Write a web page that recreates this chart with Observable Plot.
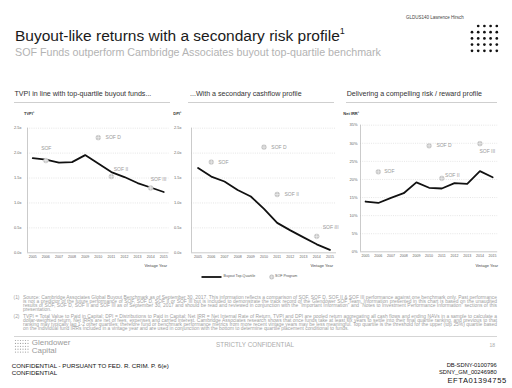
<!DOCTYPE html>
<html><head><meta charset="utf-8">
<script src="https://cdn.jsdelivr.net/npm/d3@7"></script>
<script src="https://cdn.jsdelivr.net/npm/@observablehq/plot@0.6"></script>
<style>
html,body{margin:0;padding:0;background:#fff;}
#page{position:relative;width:512px;height:388px;overflow:hidden;font-family:"Liberation Sans",Arial,Helvetica,sans-serif;}
.abs{position:absolute;white-space:nowrap;}
.note{position:absolute;font-size:4.9px;line-height:4.1px;color:#a0a0a0;text-align:justify;}
</style></head><body><div id="page"></div>
<script>
// ---------- data ----------
const years = [2005, 2006, 2007, 2008, 2009, 2010, 2011, 2012, 2013, 2014, 2015];
const tvpiTopQuartile = [1.90, 1.87, 1.81, 1.82, 1.96, 1.79, 1.62, 1.52, 1.40, 1.31, 1.22];
const dpiTopQuartile  = [1.70, 1.53, 1.43, 1.26, 1.13, 0.88, 0.60, 0.45, 0.31, 0.17, 0.06];
const irrTopQuartile  = [13.9, 13.5, 14.9, 16.2, 19.2, 17.7, 17.5, 19.0, 18.8, 22.3, 20.6];
const sofFunds    = ["SOF", "SOF D", "SOF II", "SOF III"];
const sofVintages = [2006, 2010, 2011, 2014];
const sofTvpi = [1.85, 2.31, 1.53, 1.30];
const sofDpi  = [1.82, 2.12, 1.17, 0.33];
const sofIrr  = [22.1, 29.3, 20.3, 29.9];
const multipleTicks = [0, 0.5, 1.0, 1.5, 2.0, 2.5];
const irrTicks = [0, 5, 10, 15, 20, 25, 30, 35];

const FONT = '"Liberation Sans", Arial, Helvetica, sans-serif';
const page = document.getElementById("page");

function txt(s, x, y, o = {}) {
  const d = document.createElement("div");
  d.className = "abs";
  d.textContent = s;
  Object.assign(d.style, {
    left: x + "px", top: y + "px", fontSize: (o.size || 6) + "px", lineHeight: "1",
    color: o.color || "#222", fontWeight: o.weight || "normal"
  });
  const ax = o.anchor === "end" ? "-100%" : o.anchor === "middle" ? "-50%" : "0";
  d.style.transform = `translate(${ax},-50%)`;
  if (o.ls) d.style.letterSpacing = o.ls + "px";
  page.appendChild(d);
  return d;
}
function hline(x1, x2, y, color, w) {
  const d = document.createElement("div");
  Object.assign(d.style, {position: "absolute", left: x1 + "px", top: (y - w / 2) + "px", width: (x2 - x1) + "px", height: w + "px", background: color});
  page.appendChild(d);
}
function svgEl(tag, attrs) {
  const e = document.createElementNS("http://www.w3.org/2000/svg", tag);
  for (const k in attrs) e.setAttribute(k, attrs[k]);
  return e;
}

// ---------- header ----------
txt("GLDUS140 Lawrence Hirsch", 406, 18.3, {size: 4.5, color: "#444"});
{
  const s = svgEl("svg", {width: 30, height: 30});
  s.style.position = "absolute"; s.style.left = "469px"; s.style.top = "23px";
  for (let r = 0; r < 5; r++) for (let c = 0; c < 5; c++) {
    if (r === 0 && c === 0) continue;
    s.appendChild(svgEl("circle", {cx: 3 + c * 6.2, cy: 3 + r * 6.2, r: 1.35, fill: "#111"}));
  }
  page.appendChild(s);
}
const t = txt("Buyout-like returns with a secondary risk profile", 15, 36.3, {size: 15.5, color: "#1a1a1a"});
t.innerHTML = 'Buyout-like returns with a secondary risk profile<span style="font-size:9px;vertical-align:top;position:relative;top:-1px">1</span>';
txt("SOF Funds outperform Cambridge Associates buyout top-quartile benchmark", 15, 52, {size: 10.7, color: "#b3b3b3"});

// ---------- panel titles ----------
txt("TVPI in line with top-quartile buyout funds...", 14.5, 95.2, {size: 7.1, color: "#333"});
txt("...With a secondary cashflow profile", 190, 95.2, {size: 7.1, color: "#333"});
txt("Delivering a compelling risk / reward profile", 346.7, 95.2, {size: 7.1, color: "#333"});
hline(14, 170, 102.7, "#cfcfcf", 0.7);
hline(188, 334, 102.7, "#cfcfcf", 0.7);
hline(346, 497, 102.7, "#cfcfcf", 0.7);

// ---------- charts ----------
function panel(cfg) {
  const lineData = years.map((year, i) => ({year, value: cfg.line[i]}));
  const sofData = sofFunds.map((name, i) => ({name, year: sofVintages[i], value: cfg.sof[i]}));
  const chart = Plot.plot({
    width: cfg.width, height: 165,
    marginLeft: cfg.marginLeft, marginRight: cfg.marginRight,
    marginTop: cfg.marginTop, marginBottom: cfg.marginBottom,
    style: {fontFamily: FONT, fontSize: "4px", color: "#666", background: "transparent", overflow: "visible"},
    x: {domain: cfg.xDomain, label: null},
    y: {domain: cfg.yDomain, label: null},
    marks: [
      Plot.gridY(cfg.yTicks.slice(1), {stroke: "#cccccc", strokeOpacity: 1, strokeDasharray: "1,1.2", strokeWidth: 0.5}),
      Plot.ruleX([cfg.xDomain[0]], {stroke: "#b5b5b5", strokeWidth: 0.7}),
      Plot.ruleY([0], {stroke: "#b5b5b5", strokeWidth: 0.7}),
      Plot.axisX({ticks: years, tickFormat: d => String(d), tickSize: 0, tickPadding: 3, fontSize: 3.6, label: null}),
      Plot.axisY({ticks: cfg.yTicks, tickFormat: cfg.yFmt, tickSize: 0, tickPadding: cfg.yPad, fontSize: 4, label: null}),
      Plot.line(lineData, {x: "year", y: "value", stroke: "#111", strokeWidth: 1.8}),
      Plot.dot(sofData, {x: "year", y: "value", r: 2.4, fill: "#c4c4c4", stroke: "#b2b2b2", strokeWidth: 0.4}),
      Plot.dot(sofData, {x: "year", y: "value", r: 1.9, symbol: "plus", stroke: "#f4f4f4", strokeWidth: 0.6}),
      ...sofData.map((d, i) => Plot.text([d], {x: "year", y: "value", text: "name", dx: cfg.offsets[i][0], dy: cfg.offsets[i][1], textAnchor: "start", fill: "#9a9a9a", fontSize: 5}))
    ]
  });
  const wrap = document.createElement("div");
  Object.assign(wrap.style, {position: "absolute", left: cfg.left + "px", top: "108px", width: cfg.width + "px", height: "165px"});
  wrap.appendChild(chart);
  page.appendChild(wrap);
}
const fmtX = d => d.toFixed(1) + "x";
panel({left: 0, width: 172, marginLeft: 27, marginRight: 3.5, marginTop: 19.7, marginBottom: 20.7,
  xDomain: [2004.6, 2015.4], yDomain: [0, 2.5], yTicks: multipleTicks, yFmt: fmtX, yPad: 6,
  line: tvpiTopQuartile, sof: sofTvpi,
  offsets: [[-4.7, -12.3], [7.3, 0], [2.4, -7], [0, -9]]});
panel({left: 170, width: 168, marginLeft: 21, marginRight: 2, marginTop: 19.7, marginBottom: 20.7,
  xDomain: [2004.5, 2015.5], yDomain: [0, 2.5], yTicks: multipleTicks, yFmt: fmtX, yPad: 10,
  line: dpiTopQuartile, sof: sofDpi,
  offsets: [[7, 0], [7.3, 0], [7.3, 0], [6, -9.3]]});
panel({left: 338, width: 162, marginLeft: 22, marginRight: 2.8, marginTop: 16.7, marginBottom: 21.7,
  xDomain: [2004.6, 2015.4], yDomain: [0, 35], yTicks: irrTicks, yFmt: d => d + "%", yPad: 3,
  line: irrTopQuartile, sof: sofIrr,
  offsets: [[6, 0], [7.3, 0], [3.3, -3], [-0.5, 7.4]]});

txt("TVPI¹", 24, 114.3, {size: 4, weight: "bold", color: "#333"});
txt("DPI¹", 173.3, 114.3, {size: 4, weight: "bold", color: "#333"});
txt("Net IRR¹", 343.3, 114.3, {size: 4, weight: "bold", color: "#333"});
txt("Vintage Year", 167, 265.7, {size: 4, anchor: "end", color: "#444"});
txt("Vintage Year", 333, 265.7, {size: 4, anchor: "end", color: "#444"});
txt("Vintage Year", 498, 265.7, {size: 4, anchor: "end", color: "#444"});

// ---------- legend ----------
{
  const s = svgEl("svg", {width: 80, height: 8});
  s.style.position = "absolute"; s.style.left = "200px"; s.style.top = "273px";
  s.appendChild(svgEl("line", {x1: 1.5, x2: 21.5, y1: 4, y2: 4, stroke: "#111", "stroke-width": 1.8}));
  s.appendChild(svgEl("circle", {cx: 71.7, cy: 4, r: 2.2, fill: "#c4c4c4", stroke: "#b2b2b2", "stroke-width": 0.4}));
  s.appendChild(svgEl("path", {d: "M69.9,4H73.5M71.7,2.2V5.8", stroke: "#f4f4f4", "stroke-width": 0.6}));
  page.appendChild(s);
}
txt("Buyout Top-Quartile", 223.5, 277.2, {size: 3.6, color: "#555"});
txt("SOF Program", 275, 277.2, {size: 3.6, color: "#555"});

// ---------- footnotes ----------
function note(num, text, y) {
  txt(num, 13.5, y + 2, {size: 4.9, color: "#a0a0a0"});
  const d = document.createElement("div");
  d.className = "note";
  Object.assign(d.style, {left: "23px", top: y + "px", width: "474px"});
  d.textContent = text;
  page.appendChild(d);
}
note("(1)", "Source: Cambridge Associates Global Buyout Benchmark as of September 30, 2017. This information reflects a comparison of SOF, SOF D, SOF II & SOF III performance against one benchmark only. Past performance is not a predictor of the future performance of SOF, SOF D, SOF II or SOF III but is included to demonstrate the track record of the Glendower SOF Team. Information presented in this chart is based on the unaudited results of SOF, SOF D, SOF II and SOF III as of September 30, 2017 and should be read and reviewed in conjunction with the \u201CImportant Information\u201D and \u201CNotes to Investment Performance Information\u201D sections of this presentation.", 296);
note("(2)", "TVPI = Total Value to Paid in Capital; DPI = Distributions to Paid in Capital; Net IRR = Net Internal Rate of Return. TVPI and DPI are pooled return aggregating all cash flows and ending NAVs in a sample to calculate a dollar-weighted return. Net IRRs are net of fees, expenses and carried interest. Cambridge Associates research shows that once funds take at least six years to settle into their final quartile ranking, and previous to that ranking may typically lag 1-2 other quartiles; therefore fund or benchmark performance metrics from more recent vintage years may be less meaningful. Top quartile is the threshold for the upper (top 25%) quartile based on the individual fund IRRs included in a vintage year and are used in conjunction with the bottom to determine quartile placement conditional to funds.", 314.5);

// ---------- footer ----------
hline(14, 497, 336, "#d5d5d5", 0.6);
{
  const s = svgEl("svg", {width: 18, height: 16});
  s.style.position = "absolute"; s.style.left = "14px"; s.style.top = "339px";
  for (let r = 0; r < 5; r++) for (let c = 0; c < 6; c++)
    s.appendChild(svgEl("circle", {cx: 1.5 + c * 2.5, cy: 1.5 + r * 2.9, r: 0.6, fill: "#a0a0a0"}));
  page.appendChild(s);
}
txt("Glendower", 31.7, 342.7, {size: 8, color: "#9a9a9a"});
txt("Capital", 31.7, 350.7, {size: 8, color: "#9a9a9a"});
txt("STRICTLY CONFIDENTIAL", 255, 345, {size: 6.3, color: "#ababab", anchor: "middle"});
txt("18", 495, 345, {size: 5, color: "#ababab", anchor: "end"});
txt("CONFIDENTIAL - PURSUANT TO FED. R. CRIM. P. 6(e)", 11.7, 366, {size: 6.2, color: "#111"});
txt("CONFIDENTIAL", 11.7, 373, {size: 6.2, color: "#111"});
txt("DB-SDNY-0100796", 496.7, 366, {size: 5.8, color: "#111", anchor: "end"});
txt("SDNY_GM_00246980", 496.7, 372.6, {size: 5.8, color: "#111", anchor: "end"});
txt("EFTA01394755", 506.7, 380.5, {size: 7.6, color: "#111", anchor: "end", ls: 0.55});
</script></body></html>
